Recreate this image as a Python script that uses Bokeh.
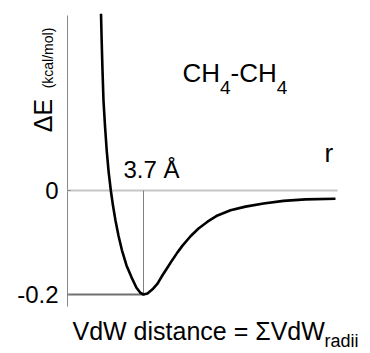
from bokeh.plotting import figure
from bokeh.models import Range1d, Label, FixedTicker
from bokeh.embed import file_html
from bokeh.resources import INLINE

# ---- data: CH4-CH4 interaction energy curve ----
r_angstrom = [3.185, 3.193, 3.203, 3.215, 3.233, 3.254, 3.278, 3.304, 3.330,
              3.361, 3.397, 3.439, 3.494, 3.555, 3.615, 3.664, 3.700,
              3.748, 3.809, 3.870, 3.930, 3.991, 4.052, 4.112, 4.173,
              4.270, 4.367, 4.476, 4.597, 4.755, 4.936, 5.155, 5.397,
              5.664, 6.027]
delta_e = [0.340, 0.288, 0.231, 0.173, 0.125, 0.077, 0.035, 0.000, -0.029,
           -0.058, -0.087, -0.115, -0.144, -0.167, -0.187, -0.197, -0.200,
           -0.198, -0.190, -0.179, -0.163, -0.148, -0.133, -0.119, -0.106,
           -0.088, -0.073, -0.060, -0.048, -0.038, -0.031, -0.025, -0.020,
           -0.017, -0.016]
y_ticks = [-0.2, 0.0]
y_tick_labels = ["-0.2", "0"]

# ---- layout ----
W, H = 370, 353
SX, SY = 82.5, 520.0           # px per Angstrom, px per kcal/mol
X0 = 3.7 - 143 / SX
Y1 = 190 / SY
X1, Y0 = X0 + W / SX, Y1 - H / SY
AXIS_X = X0 + 67 / SX          # where the energy axis sits
AXIS_TOP, AXIS_BOTTOM = Y1 - 15 / SY, Y1 - 306 / SY
FONT = "Liberation Sans"

p = figure(width=W, height=H, x_range=Range1d(X0, X1), y_range=Range1d(Y0, Y1),
           toolbar_location=None, output_backend="svg",
           min_border_left=0, min_border_right=0, min_border_top=0, min_border_bottom=0)
p.outline_line_color = None
p.grid.visible = False
p.xaxis.visible = False
p.background_fill_color = "white"
p.border_fill_color = "white"

ya = p.yaxis[0]
ya.fixed_location = AXIS_X
ya.ticker = FixedTicker(ticks=y_ticks)
ya.major_label_overrides = {t: l for t, l in zip(y_ticks, y_tick_labels)}
ya.minor_tick_line_color = None
ya.major_tick_in = 3
ya.major_tick_out = 0
ya.major_tick_line_color = "#888888"
ya.axis_line_color = None
ya.major_label_standoff = 9
ya.major_label_text_font = FONT
ya.major_label_text_font_size = "24px"
ya.major_label_text_color = "black"

def dx(px):
    return X0 + px / SX
def dy(py):
    return Y1 - py / SY

# axis line
p.line([AXIS_X, AXIS_X], [AXIS_TOP, AXIS_BOTTOM], line_color="#888888", line_width=1)

# reference lines
i_min = min(range(len(delta_e)), key=lambda i: delta_e[i])
r_min, e_min = r_angstrom[i_min], delta_e[i_min]
p.line([AXIS_X, max(r_angstrom) + 0.025], [0, 0], line_color="#c6c6c6", line_width=2)
p.line([AXIS_X, r_min], [e_min, e_min], line_color="#6e6e6e", line_width=2)
p.line([r_min, r_min], [0, e_min], line_color="#808080", line_width=1)

# curve
p.line(r_angstrom, delta_e, line_color="black", line_width=2.6, line_join="round")

def lab(text, px, py, size, **kw):
    p.add_layout(Label(x=dx(px), y=dy(py), text=text, text_font=FONT,
                       text_font_size=f"{size}px", text_color="black", **kw))

# y label (rotated)
lab("ΔE", 42.5, 115, 25, angle=1.5708, text_align="center", text_baseline="middle")
lab("(kcal/mol)", 47.5, 57.5, 14, angle=1.5708, text_align="center", text_baseline="middle")

# CH4-CH4
big, small = 26, 19
x = 182
for t, sz, off in [("CH", big, 0), ("4", small, 6), ("-CH", big, 0), ("4", small, 6)]:
    lab(t, x, 87 + off, sz)
    x += {"CH": 1.444, "4": 0.556, "-CH": 1.777}[t] * sz

# minimum distance label and r
lab(f"{r_min:.1f} Å", 123, 182, 24)
lab("r", 324, 167, 26)

# bottom label
main_size, sub_size = 25, 18
lab("VdW distance = ΣVdW", 72, 344, main_size)
lab("radii", 72 + 10.08 * main_size, 350, sub_size)

open("out.html", "w").write(file_html(p, INLINE))
